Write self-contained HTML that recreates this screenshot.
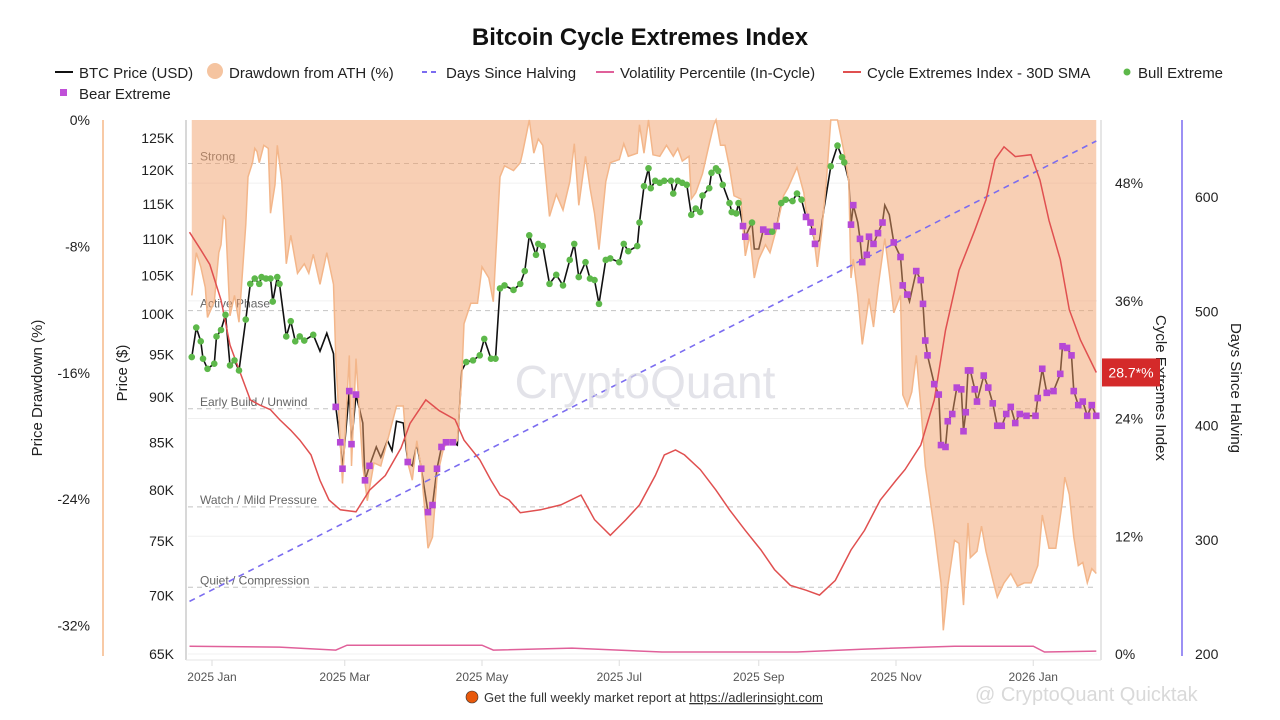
<!DOCTYPE html>
<html><head><meta charset="utf-8"><style>
html,body{margin:0;padding:0;background:#fff;}
svg{display:block;font-family:"Liberation Sans",sans-serif;}
</style></head><body>
<svg id="chart" width="1280" height="720" viewBox="0 0 1280 720" xmlns="http://www.w3.org/2000/svg">
<text x="640" y="45" text-anchor="middle" font-size="24" font-weight="bold" fill="#111">Bitcoin Cycle Extremes Index</text>
<g font-size="15" fill="#222">
  <g><line x1="55" y1="72" x2="73" y2="72" stroke="#111" stroke-width="2"/><text x="79" y="78">BTC Price (USD)</text></g>
  <g><circle cx="215" cy="71" r="8" fill="#f5c4a0"/><text x="229" y="78">Drawdown from ATH (%)</text></g>
  <g><line x1="422" y1="72" x2="440" y2="72" stroke="#7b6cf0" stroke-width="2" stroke-dasharray="5,4"/><text x="446" y="78">Days Since Halving</text></g>
  <g><line x1="596" y1="72" x2="614" y2="72" stroke="#e0609a" stroke-width="2"/><text x="620" y="78">Volatility Percentile (In-Cycle)</text></g>
  <g><line x1="843" y1="72" x2="861" y2="72" stroke="#e05050" stroke-width="2"/><text x="867" y="78">Cycle Extremes Index - 30D SMA</text></g>
  <g><circle cx="1127" cy="72" r="3.5" fill="#5db84a"/><text x="1138" y="78">Bull Extreme</text></g>
  <g><rect x="60" y="89" width="7" height="7" fill="#c050d8"/><text x="79" y="99">Bear Extreme</text></g>
</g>
<g id="axes"></g>
<g id="plot"></g>
<text x="645" y="398" text-anchor="middle" font-size="46" fill="#d8d8e0" opacity="0.7">CryptoQuant</text>
<g>
  <circle cx="472" cy="697" r="6" fill="#e8590c" stroke="#333" stroke-width="0.6"/>
  <text x="484" y="702" font-size="13" fill="#333">Get the full weekly market report at <tspan text-decoration="underline">https://adlerinsight.com</tspan></text>
  <text x="975" y="701" font-size="20" fill="#d0d0d0" opacity="0.8">@ CryptoQuant Quicktak</text>
</g>
</svg>
<script>
// ---- data ----
const priceDays = [-9,-7,-5,-4,-2,1,2,4,6,8,10,12,15,17,19,21,22,24,26,27,29,30,33,35,37,39,41,45,48,51,54,55,57,58,61,62,64,67,68,70,73,75,78,80,82,85,87,89,91,93,96,98,100,102,104,107,109,111,113,116,119,121,124,126,128,130,134,137,139,141,144,145,147,150,153,156,159,161,163,166,168,170,172,175,177,181,183,185,189,190,
192,194,195,197,199,201,204,205,207,209,211,213,215,217,218,221,222,224,225,227,230,231,233,234,236,237,240,241,243,245,247,249,251,253,255,258,260,262,264,266,267,268,270,272,275,278,280,281,283,284,285,287,288,289,291,292,294,296,298,299,301,303,306,307,309,310,313,315,316,317,318,321,323,324,326,327,329,331,333,334,335,336,337,339,340,343,345,347,349,351,353,355,357,359,362,366,367,369,371,374,377,378,380,382,383,385,387,389,391,393];
const priceK = [94.7,98.3,96.6,94.5,93.3,93.9,97.2,98.0,99.9,93.7,94.3,93.1,99.3,103.9,104.6,103.9,104.8,104.6,104.6,101.6,104.8,103.9,97.2,99.1,96.6,97.2,96.7,97.4,95.4,97.6,95.1,88.9,85.0,82.2,90.7,84.8,90.3,87.1,81.0,82.5,84.5,83.4,85.2,84.1,87.3,87.1,82.9,82.5,84.8,82.2,77.8,78.5,82.2,84.5,85.0,85.0,84.7,93.1,94.1,94.3,94.9,96.9,94.5,94.5,103.3,103.7,103.1,103.9,105.6,110.5,107.8,109.3,109.0,103.9,105.1,103.7,107.1,109.3,104.8,106.8,104.6,104.4,101.3,107.1,107.3,106.8,109.3,108.3,109.0,112.3,
117.6,120.3,117.3,118.4,118.1,118.4,118.4,116.5,118.4,118.1,117.8,113.4,114.3,113.8,116.2,117.3,119.6,120.3,119.9,117.8,115.1,113.8,113.6,115.1,111.8,110.3,112.3,108.6,108.6,111.3,111.0,111.0,111.8,115.1,115.6,115.4,116.5,115.6,113.1,112.3,111.0,109.3,109.8,114.3,120.6,123.8,122.0,121.2,118.4,112.0,114.8,112.3,110.0,106.8,107.8,110.3,109.3,110.8,112.3,114.8,113.4,109.5,107.5,103.7,102.5,101.6,105.6,104.4,101.3,96.7,94.9,91.5,90.3,84.7,84.5,87.3,88.1,91.1,90.9,86.2,88.3,93.1,93.1,90.9,89.5,92.5,91.1,89.3,86.8,86.8,88.1,88.9,87.1,88.1,87.9,87.9,89.9,93.3,90.5,90.7,92.7,96.0,95.8,94.9,90.7,89.1,89.5,87.9,89.1,87.9];
// 1 = bull extreme, 2 = bear extreme, 0 = none
const signal = [1,1,1,1,1,1,1,1,1,1,1,1,1,1,1,1,1,1,1,1,1,1,1,1,1,1,1,1,0,0,0,
2,2,2,2,2,2,0,2,2,0,0,0,0,0,0,2,0,0,2,2,2,2,2,2,2,0,
0,1,1,1,1,1,1,1,1,1,1,1,1,1,1,1,1,1,1,1,1,1,1,1,1,1,1,1,1,1,1,1,1,
1,1,1,1,1,1,1,1,1,1,1,1,1,1,1,1,1,1,1,1,1,1,1,1,2,2,1,0,0,2,2,1,2,1,1,1,1,1,2,2,2,2,0,0,1,1,1,1,0,2,2,0,2,2,2,2,2,2,2,0,0,2,2,2,2,0,2,2,2,2,2,2,2,2,2,2,2,2,2,2,2,2,2,2,2,2,2,2,2,2,2,2,2,2,2,2,2,2,2,2,2,2,2,2,2,2,2,2,2,2,2,2,2,2,2];
const ddDays = [-9,-7,-5,-3,-2,1,3,4,5,6,8,10,12,15,16,18,19,20,21,23,25,26,28,29,31,33,35,38,41,43,45,48,51,54,55,58,61,62,64,67,69,72,75,78,82,85,87,89,91,93,96,98,100,103,106,109,111,112,115,118,120,123,125,128,130,134,137,138,141,143,145,147,150,153,156,159,161,163,166,168,170,172,175,177,181,183,185,189,190,
192,194,196,199,202,205,207,209,212,213,215,218,221,223,224,226,228,230,232,235,237,239,241,243,246,248,251,254,256,260,263,264,267,269,271,273,275,278,281,283,284,285,287,289,292,294,296,299,301,303,306,307,309,311,313,315,317,319,321,324,325,327,330,332,334,336,337,340,342,344,347,349,352,355,358,361,364,367,369,372,375,378,379,381,383,385,387,389,391,393];
const ddPct = [-11.1,-8.4,-9.3,-10.6,-12.5,-11.5,-8.4,-7.9,-6.1,-6.3,-12.4,-11.1,-12.8,-6.6,-3.6,-2.7,-1.8,-2.0,-2.7,-1.6,-1.8,-5.9,-4.1,-1.6,-3.9,-9.1,-7.3,-9.7,-9.1,-9.7,-8.5,-10.4,-8.4,-10.4,-15.1,-23.0,-14.9,-21.9,-15.1,-21.9,-24.1,-21.7,-21.9,-20.3,-18.1,-18.1,-21.7,-22.8,-20.3,-22.1,-27.1,-26.4,-22.6,-20.7,-20.3,-20.3,-16.3,-12.9,-11.6,-11.6,-9.3,-10.0,-11.5,-3.6,-2.9,-3.2,-2.7,-2.1,0,-2.1,-1.2,-1.6,-6.1,-4.7,-5.7,-3.9,-1.5,-5.4,-2.3,-4.3,-5.9,-8.2,-3.9,-2.7,-2.5,-1.5,-2.3,-2.1,-0.3,
-2.1,0,-2.2,-2.3,-1.6,-2.3,-1.8,-2.6,-2.3,-5.0,-4.6,-3.4,-1.5,-0.3,0,-1.6,-1.6,-3.0,-4.8,-5.0,-8.6,-7.3,-10.0,-8.8,-7.9,-8.4,-6.8,-4.8,-4.3,-3.0,-4.6,-5.7,-6.8,-9.3,-7.0,-3.9,0,0,-2.1,-3.9,-10.0,-8.8,-11.1,-14.2,-11.3,-13.1,-10.6,-7.5,-9.7,-12.2,-11.1,-17.4,-18.1,-17.2,-14.9,-18.1,-21.9,-23.9,-25.9,-29.3,-32.3,-29.5,-26.6,-26.8,-30.7,-25.5,-27.7,-27.3,-25.7,-27.3,-29.1,-30.2,-29.3,-28.7,-29.5,-29.3,-29.3,-28.2,-25.0,-27.1,-27.1,-24.1,-22.6,-23.7,-26.4,-28.2,-28.0,-29.3,-28.4,-28.7];
const smaDays = [-10,-5,-1,4,8,12,17,21,26,30,35,39,44,48,52,57,64,70,77,84,88,95,101,108,112,119,124,128,132,137,146,155,164,170,177,184,190,197,201,206,210,217,224,230,237,244,250,257,264,270,277,284,290,297,304,308,315,321,326,332,339,344,348,352,357,364,368,372,377,381,386,393];
const smaPct = [43.0,41.2,39.7,36.1,31.5,29.0,25.9,25.4,24.9,23.9,22.8,21.8,20.3,17.7,15.7,14.7,14.5,16.7,18.2,21.0,23.5,25.9,24.8,23.9,21.8,19.8,17.7,16.2,15.7,14.4,14.7,15.2,16.2,13.7,12.1,13.7,15.2,18.2,20.3,20.8,20.3,18.8,16.7,14.7,12.6,10.6,8.6,7.0,6.5,6.0,7.5,10.6,12.6,15.7,17.7,18.8,21.3,25.9,33.0,39.1,43.2,46.3,50.4,51.7,50.7,50.9,48.3,44.2,40.2,35.1,32.0,28.7];
const volDays = [-10,30,55,60,120,125,160,200,260,290,330,365,370,393];
const volPct = [0.8,0.7,0.4,0.9,0.9,0.4,0.6,0.2,0.2,0.5,0.8,0.8,0.2,0.3];
const halvingDays = [246,649]; // at first and last date
const halvingDates = [-10,393];
const priceTicks = [65,70,75,80,85,90,95,100,105,110,115,120,125];
const ddTicks = [0,-8,-16,-24,-32];
const ceiTicks = [0,12,24,36,48];
const halvTicks = [200,300,400,500,600];
const monthLabels = ["2025 Jan","2025 Mar","2025 May","2025 Jul","2025 Sep","2025 Nov","2026 Jan"];
const monthDays = [0,59,120,181,243,304,365];
const zoneNames = ["Strong","Active Phase","Early Build / Unwind","Watch / Mild Pressure","Quiet / Compression"];
const zoneLevels = [50,35,25,15,6.8];
const lastValueLabel = "28.7*%";

// ---- scales ----
const xS = d => 212 + d*2.25;
const yP = p => 138 + (Math.log(125) - Math.log(p))*789;
const yD = v => 120 - v*15.8;
const yC = v => 654 - v*9.81;
const yH = h => 654 - (h-200)*1.1425;
const NS = "http://www.w3.org/2000/svg";
function mk(tag, attrs, parent){const e=document.createElementNS(NS,tag);for(const k in attrs)e.setAttribute(k,attrs[k]);parent.appendChild(e);return e;}
const axes = document.getElementById('axes');
const plot = document.getElementById('plot');

// axes lines
let e;
e = mk('line',{x1:103,y1:120,x2:103,y2:656,stroke:'#f5b888','stroke-width':1.5},axes);


e = mk('line',{x1:186,y1:120,x2:186,y2:660,stroke:'#ccc','stroke-width':1.5},axes);


e = mk('line',{x1:1101,y1:120,x2:1101,y2:660,stroke:'#ddd','stroke-width':1.5},axes);


e = mk('line',{x1:1182,y1:120,x2:1182,y2:656,stroke:'#7b6cf0','stroke-width':1.5},axes);


e = mk('line',{x1:186,y1:660,x2:1101,y2:660,stroke:'#e6e6e6','stroke-width':1},axes);



ddTicks.forEach(v=>{
  const t=mk('text',{x:90,y:yD(v)+5,'text-anchor':'end','font-size':14,fill:'#222'},axes);t.textContent=v+'%';
  
  
});
priceTicks.forEach(v=>{
  const t=mk('text',{x:174,y:yP(v)+5,'text-anchor':'end','font-size':14,fill:'#222'},axes);t.textContent=v+'K';
  
  
});
ceiTicks.forEach(v=>{
  const t=mk('text',{x:1115,y:yC(v)+5,'font-size':14,fill:'#222'},axes);t.textContent=v+'%';
  
  
  const g=mk('line',{x1:188,x2:1097,y1:yC(v),y2:yC(v),stroke:'#f0f0f0','stroke-width':1},plot);
  
  
});
halvTicks.forEach(v=>{
  const t=mk('text',{x:1195,y:yH(v)+5,'font-size':14,fill:'#222'},axes);t.textContent=v;
  
  
});
monthLabels.forEach((m,i)=>{
  const x=xS(monthDays[i]);
  const t=mk('text',{x:x,y:681,'text-anchor':'middle','font-size':12,fill:'#555'},axes);t.textContent=m;
  
  
  const k=mk('line',{x1:x,x2:x,y1:660,y2:666,stroke:'#ddd'},axes);
  
  
});
[[38,388,'Price Drawdown (%)','drawdown-axis-title',-90],[123,373,'Price ($)','price-axis-title',-90],[1160,388,'Cycle Extremes Index','cei-axis-title',90],[1235,388,'Days Since Halving','halving-axis-title',90]].forEach(a=>{
  const t=mk('text',{x:a[0],y:a[1],'text-anchor':'middle','font-size':15,fill:'#222',transform:`rotate(${a[4]} ${a[0]} ${a[1]})`,'dominant-baseline':'middle'},axes);t.textContent=a[2];
  
  
});

// zone lines
zoneNames.forEach((n,i)=>{
  const y=yC(zoneLevels[i]);
  const l=mk('line',{x1:188,x2:1097,y1:y,y2:y,stroke:'#c4c4c4','stroke-width':1,'stroke-dasharray':'5,4'},plot);
  
  
  const t=mk('text',{x:200,y:y-3,'font-size':12,fill:'#666',stroke:'#fff','stroke-width':2.5,'paint-order':'stroke'},plot);t.textContent=n;
  
  
});

// price line
let pts = priceDays.map((d,i)=>xS(d).toFixed(1)+','+yP(priceK[i]).toFixed(1)).join(' ');
e = mk('polyline',{points:pts,fill:'none',stroke:'#111','stroke-width':1.6},plot);



// drawdown fill
let dd = 'M'+xS(ddDays[0])+',120 ' + ddDays.map((d,i)=>'L'+xS(d).toFixed(1)+','+yD(ddPct[i]).toFixed(1)).join(' ') + ' L'+xS(ddDays[ddDays.length-1])+',120 Z';
e = mk('path',{d:dd,fill:'rgba(242,160,105,0.5)',stroke:'none'},plot);


e = mk('polyline',{points:ddDays.map((d,i)=>xS(d).toFixed(1)+','+yD(ddPct[i]).toFixed(1)).join(' '),fill:'none',stroke:'#f3b68a','stroke-width':1.5},plot);



// volatility
e = mk('polyline',{points:volDays.map((d,i)=>xS(d).toFixed(1)+','+yC(volPct[i]).toFixed(1)).join(' '),fill:'none',stroke:'#e0609a','stroke-width':1.5},plot);



// halving line
e = mk('polyline',{points:halvingDates.map((d,i)=>xS(d).toFixed(1)+','+yH(halvingDays[i]).toFixed(1)).join(' '),fill:'none',stroke:'#7b6cf0','stroke-width':1.6,'stroke-dasharray':'6,5'},plot);



// SMA
e = mk('polyline',{points:smaDays.map((d,i)=>xS(d).toFixed(1)+','+yC(smaPct[i]).toFixed(1)).join(' '),fill:'none',stroke:'#e05050','stroke-width':1.5},plot);



// markers
priceDays.forEach((d,i)=>{
  const x=xS(d), y=yP(priceK[i]);
  if(signal[i]===1){
    const c=mk('circle',{cx:x,cy:y,r:3.3,fill:'#5db84a'},plot);
    
    
  } else if(signal[i]===2){
    const r=mk('rect',{x:x-3.3,y:y-3.3,width:6.6,height:6.6,fill:'#b648d6'},plot);
    
    
  }
});

// last value tag
const ly = yC(smaPct[smaPct.length-1]);
e = mk('rect',{x:1102,y:ly-14,width:58,height:28,fill:'#d42a2a'},axes);


e = mk('text',{x:1131,y:ly+5,'text-anchor':'middle','font-size':14,fill:'#fff'},axes);
e.textContent = lastValueLabel;


</script>
</body></html>
